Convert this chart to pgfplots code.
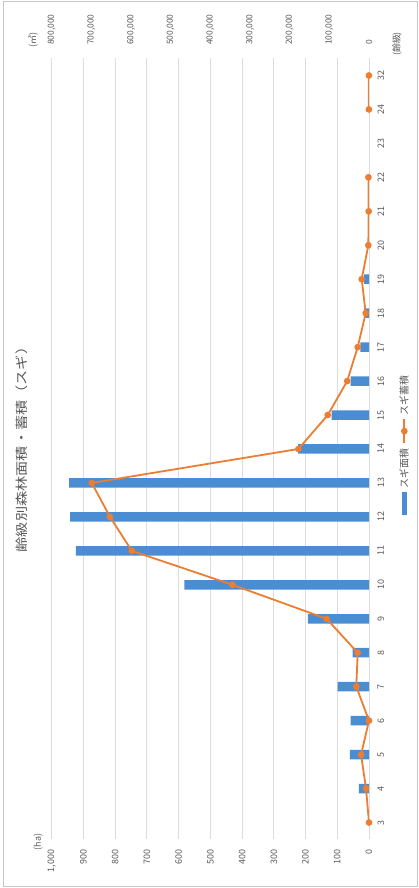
\documentclass[border=0pt]{standalone}
\usepackage{pgfplots}
\usepackage{pgfplotstable}
\pgfplotsset{compat=1.18}
\usepackage{fontspec}
\setmainfont{Noto Sans CJK JP}
\definecolor{barblue}{HTML}{4A8DD2}
\definecolor{lineorange}{HTML}{ED7D31}
\definecolor{gridgray}{HTML}{DDDDDD}
\definecolor{txtgray}{HTML}{595959}
\tikzset{legtext/.style={rotate=90, anchor=west, inner sep=0pt, text=txtgray, font=\fontsize{10}{11}\selectfont}}
\pgfplotsset{linelegend/.style={legend image code/.code={\draw[mark repeat=2,mark phase=2,##1] plot coordinates {(0bp,0bp) (0bp,12bp) (0bp,24bp)};
  \node[legtext] at (0bp,27bp) {スギ蓄積};}}}
\pgfplotsset{barlegend/.style={legend image code/.code={\fill[barblue] (-2bp,0bp) rectangle (2bp,22bp);
  \node[legtext] at (0bp,25bp) {スギ面積};}}}
\pgfplotstableread{
idx ha m3
0 0 0
1 32 7500
2 60 20000
3 58 0
4 99 32000
5 52 28500
6 193 107000
7 582 344000
8 924 598000
9 942 653000
10 945 699000
11 223 178000
12 118 104000
13 58 55000
14 27 28500
15 15 8300
16 15 18400
17 0 1700
18 0 800
19 0 1500
20 nan nan
21 0 300
22 0 300
}\datatable
\begin{document}
\begin{tikzpicture}
\path[use as bounding box] (0,0) rectangle (419bp,888bp);
\draw[gray!45] (3bp,2bp) rectangle (417bp,887bp);
\begin{axis}[
  at={(210.35bp,439bp)}, anchor=center,
  scale only axis, width=317.3bp, height=781bp,
  x dir=reverse,
  xmin=0, xmax=1000,
  ymin=-0.5, ymax=22.5,
  xbar, bar width=9.5bp,
  xtick={0,100,...,1000},
  scaled x ticks=false,
  xticklabel shift=7bp,
  xticklabel style={rotate=90, anchor=east},
  ytick={0,...,22},
  yticklabels={3,4,5,6,7,8,9,10,11,12,13,14,15,16,17,18,19,20,21,22,23,24,32},
  yticklabel pos=right,
  yticklabel shift=5bp,
  yticklabel style={rotate=90, anchor=north},
  major tick length=0pt,
  axis line style={draw=none},
  xmajorgrids, grid style={gridgray, line width=0.8bp},
  /pgf/number format/.cd, 1000 sep={,}, assume math mode=true,
  /pgfplots/.cd,
  tick label style={font=\fontsize{9}{10}\selectfont, text=txtgray},
]
\addplot[fill=barblue, draw=none] table[x=ha, y=idx] {\datatable};
\end{axis}
\begin{axis}[
  at={(210.35bp,439bp)}, anchor=center,
  scale only axis, width=317.3bp, height=781bp,
  x dir=reverse,
  xmin=0, xmax=800000,
  ymin=-0.5, ymax=22.5,
  xtick={0,100000,...,800000},
  scaled x ticks=false,
  xticklabel pos=upper,
  xticklabel shift=10bp,
  xticklabel style={rotate=90, anchor=west},
  ytick=\empty,
  major tick length=0pt,
  axis line style={draw=none},
  unbounded coords=jump,
  /pgf/number format/.cd, 1000 sep={,}, fixed, assume math mode=true,
  /pgfplots/.cd,
  tick label style={font=\fontsize{8.5}{10}\selectfont, text=txtgray},
  legend columns=1,
  reverse legend,
  legend style={draw=none, fill=none, row sep=5bp, nodes={inner sep=0pt},
    at={(axis description cs:1.113,0.505)}, anchor=center},
]
\addlegendimage{barlegend}
\addlegendentry{}
\addplot[lineorange, line width=1.8bp, mark=*, mark size=2.4bp, mark options={fill=lineorange, draw=lineorange}, linelegend]
  table[x=m3, y=idx] {\datatable};
\addlegendentry{}
\end{axis}
\node[rotate=90, xscale=1.22, text=txtgray, font=\fontsize{12.5}{14}\selectfont] at (22bp,442bp) {齢級別森林面積・蓄積（スギ）};
\node[rotate=90, text=txtgray, font=\fontsize{9}{10}\selectfont] at (38bp,46bp) {(ha)};
\node[rotate=90, text=txtgray, font=\fontsize{9}{10}\selectfont] at (33bp,848bp) {(㎥)};
\node[rotate=90, text=txtgray, font=\fontsize{9}{10}\selectfont] at (397bp,844bp) {(齢級)};
\end{tikzpicture}
\end{document}
